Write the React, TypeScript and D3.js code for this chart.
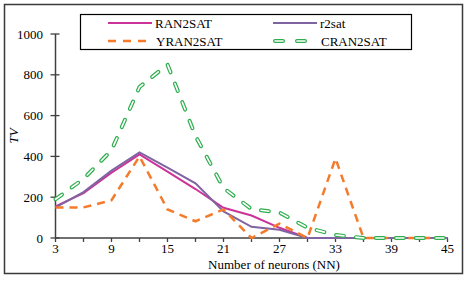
import React, { useRef, useEffect } from 'react';
import * as d3 from 'd3';

// number of neurons (x values)
const nn = [3, 6, 9, 12, 15, 18, 21, 24, 27, 30, 33, 36, 39, 42, 45];

// TV values
const ran2sat = [155, 220, 320, 410, 325, 240, 148, 110, 50, 0, 0, 0, 0, 0, 0];
const r2sat = [150, 225, 330, 420, 345, 268, 130, 55, 40, 0, 0, 0, 0, 0, 0];
const yran2sat = [150, 150, 185, 400, 140, 82, 140, 0, 70, 0, 390, 0, 0, 0, 0];
const cran2sat = [190, 290, 430, 740, 850, 500, 245, 142, 125, 50, 15, 0, 0, 0, 0];

const xTicks = [3, 9, 15, 21, 27, 33, 39, 45];
const yTicks = [0, 200, 400, 600, 800, 1000];

const App: React.FC = () => {
    const svgRef = useRef<SVGSVGElement | null>(null);

    useEffect(() => {
        if (!svgRef.current) return;
        const width = 470;
        const height = 281;
        const font = '"Liberation Serif", "Times New Roman", serif';

        const svg = d3.select(svgRef.current)
            .attr('width', width)
            .attr('height', height);
        svg.selectAll('*').remove();

        // outer frame
        svg.append('rect')
            .attr('x', 4.5).attr('y', 4.5)
            .attr('width', 458).attr('height', 269)
            .attr('fill', 'white')
            .attr('stroke', '#3a3a3a')
            .attr('stroke-width', 1.5);

        const x = d3.scaleLinear().domain([3, 45]).range([55.5, 447.5]);
        const y = d3.scaleLinear().domain([0, 1000]).range([238, 34]);

        // y axis
        const yAxis = svg.append('g');
        yAxis.append('line')
            .attr('x1', x(3)).attr('x2', x(3))
            .attr('y1', y(0)).attr('y2', y(1000))
            .attr('stroke', '#404040').attr('stroke-width', 1.5);
        yAxis.selectAll('.ytick')
            .data(yTicks)
            .enter().append('line')
            .attr('x1', x(3) - 5).attr('x2', x(3) + 4)
            .attr('y1', d => y(d)).attr('y2', d => y(d))
            .attr('stroke', '#404040').attr('stroke-width', 1.3);
        yAxis.selectAll('.ylab')
            .data(yTicks)
            .enter().append('text')
            .attr('x', 43)
            .attr('y', d => y(d) + 4.5)
            .attr('text-anchor', 'end')
            .attr('font-family', font)
            .attr('font-size', 13)
            .attr('fill', 'black')
            .text(d => d.toString());

        // x axis
        const xAxis = svg.append('g');
        xAxis.append('line')
            .attr('x1', x(3)).attr('x2', x(45))
            .attr('y1', y(0)).attr('y2', y(0))
            .attr('stroke', '#404040').attr('stroke-width', 1.5);
        xAxis.selectAll('.xtick')
            .data(nn)
            .enter().append('line')
            .attr('x1', d => x(d)).attr('x2', d => x(d))
            .attr('y1', y(0)).attr('y2', y(0) + 4)
            .attr('stroke', '#404040').attr('stroke-width', 1.3);
        xAxis.selectAll('.xlab')
            .data(xTicks)
            .enter().append('text')
            .attr('x', d => x(d))
            .attr('y', 253)
            .attr('text-anchor', 'middle')
            .attr('font-family', font)
            .attr('font-size', 13)
            .attr('fill', 'black')
            .text(d => d.toString());

        // axis titles
        svg.append('text')
            .attr('x', 274)
            .attr('y', 269)
            .attr('text-anchor', 'middle')
            .attr('font-family', font)
            .attr('font-size', 13)
            .attr('fill', 'black')
            .text('Number of neurons (NN)');
        svg.append('text')
            .attr('transform', 'translate(18,136) rotate(-90)')
            .attr('text-anchor', 'middle')
            .attr('font-family', font)
            .attr('font-size', 13)
            .attr('font-style', 'italic')
            .attr('fill', 'black')
            .text('TV');

        const line = d3.line<number>()
            .x((_, i) => x(nn[i]))
            .y(d => y(d));

        const g = svg.append('g');

        // RAN2SAT
        g.append('path')
            .attr('d', line(ran2sat))
            .attr('fill', 'none')
            .attr('stroke', '#CC3399')
            .attr('stroke-width', 2);

        // r2sat
        g.append('path')
            .attr('d', line(r2sat))
            .attr('fill', 'none')
            .attr('stroke', '#8064A2')
            .attr('stroke-width', 2);

        // YRAN2SAT
        g.append('path')
            .attr('d', line(yran2sat))
            .attr('fill', 'none')
            .attr('stroke', '#F57A2A')
            .attr('stroke-width', 2.5)
            .attr('stroke-dasharray', '8,6');

        // CRAN2SAT hollow dashes: green outline, white core
        g.append('path')
            .attr('d', line(cran2sat))
            .attr('fill', 'none')
            .attr('stroke', '#2EAE4E')
            .attr('stroke-width', 4)
            .attr('stroke-linecap', 'round')
            .attr('stroke-dasharray', '8,12');
        g.append('path')
            .attr('d', line(cran2sat))
            .attr('fill', 'none')
            .attr('stroke', 'white')
            .attr('stroke-width', 1.6)
            .attr('stroke-linecap', 'round')
            .attr('stroke-dasharray', '8,12');

        // legend
        const legend = svg.append('g');
        legend.append('rect')
            .attr('x', 80.5).attr('y', 14.5)
            .attr('width', 331).attr('height', 35)
            .attr('fill', 'white')
            .attr('stroke', 'black')
            .attr('stroke-width', 1.2);

        const items = [
            { label: 'RAN2SAT', lx: 108, ly: 23, kind: 'magenta' },
            { label: 'r2sat', lx: 273, ly: 23, kind: 'purple' },
            { label: 'YRAN2SAT', lx: 108, ly: 41, kind: 'orange' },
            { label: 'CRAN2SAT', lx: 273, ly: 41, kind: 'green' },
        ];
        items.forEach(it => {
            if (it.kind === 'magenta' || it.kind === 'purple') {
                legend.append('line')
                    .attr('x1', it.lx).attr('x2', it.lx + 44)
                    .attr('y1', it.ly).attr('y2', it.ly)
                    .attr('stroke', it.kind === 'magenta' ? '#CC3399' : '#8064A2')
                    .attr('stroke-width', 2);
            } else if (it.kind === 'orange') {
                legend.append('line')
                    .attr('x1', it.lx).attr('x2', it.lx + 40)
                    .attr('y1', it.ly).attr('y2', it.ly)
                    .attr('stroke', '#F57A2A')
                    .attr('stroke-width', 2.5)
                    .attr('stroke-dasharray', '8,7');
            } else {
                legend.append('line')
                    .attr('x1', it.lx + 2).attr('x2', it.lx + 38)
                    .attr('y1', it.ly).attr('y2', it.ly)
                    .attr('stroke', '#2EAE4E')
                    .attr('stroke-width', 4)
                    .attr('stroke-linecap', 'round')
                    .attr('stroke-dasharray', '8,14');
                legend.append('line')
                    .attr('x1', it.lx + 2).attr('x2', it.lx + 38)
                    .attr('y1', it.ly).attr('y2', it.ly)
                    .attr('stroke', 'white')
                    .attr('stroke-width', 1.6)
                    .attr('stroke-linecap', 'round')
                    .attr('stroke-dasharray', '8,14');
            }
            legend.append('text')
                .attr('x', it.kind === 'magenta' ? it.lx + 47 : it.kind === 'purple' ? it.lx + 47 : it.lx + 48)
                .attr('y', it.ly + 4.5)
                .attr('font-family', font)
                .attr('font-size', 13)
                .attr('fill', 'black')
                .text(it.label);
        });
    }, []);

    return <svg ref={svgRef} style={{ position: 'absolute', left: 0, top: 0 }}></svg>;
};

export default App;
